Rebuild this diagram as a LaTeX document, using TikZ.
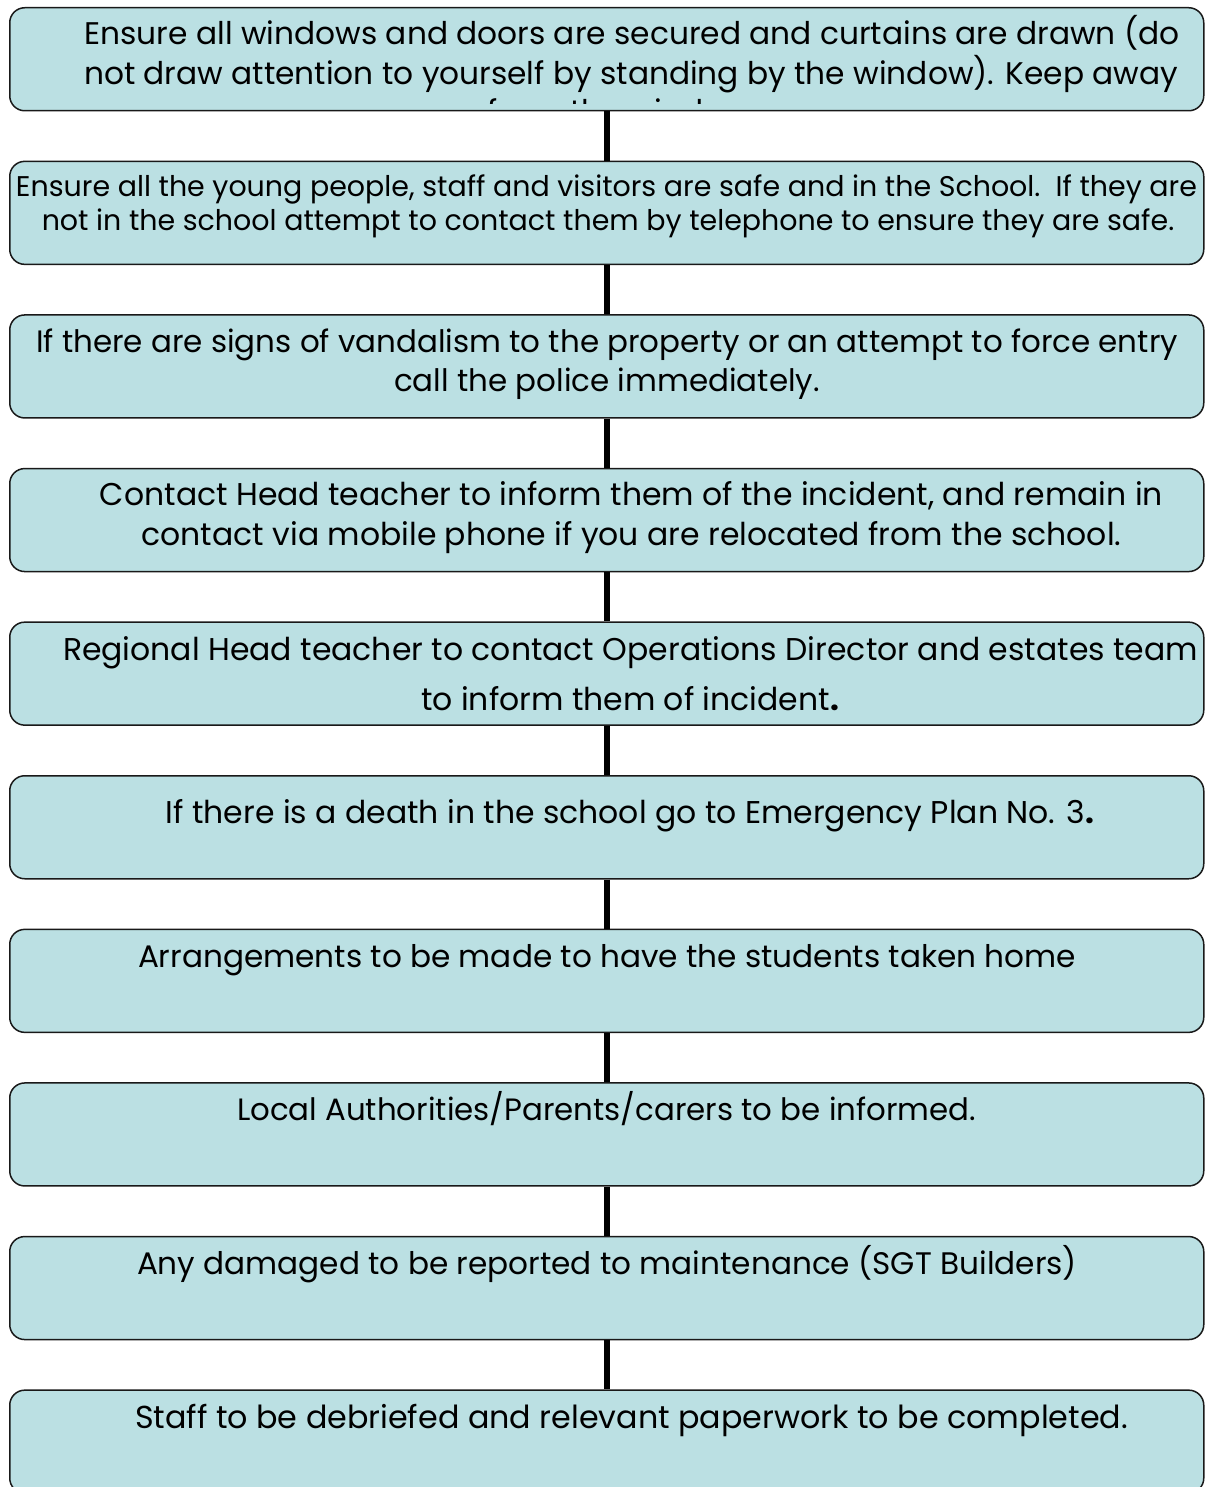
\documentclass[tikz,border=0pt]{standalone}
\usepackage{fontspec}
\setmainfont{Poppins}
\definecolor{boxfill}{RGB}{187,224,227}
\definecolor{boxline}{RGB}{25,25,25}
\newlength\fitlen
\newcommand\fitfont[3]{\settowidth\fitlen{\normalfont\fontsize{20pt}{24pt}\selectfont #3}\pgfmathsetmacro\fittmp{#2/\fitlen*20}\global\let#1\fittmp}
\tikzset{
  stepbox/.style={draw=boxline, line width=1.5pt, fill=boxfill, rounded corners=15pt,
    minimum width=1194pt, minimum height=103pt, inner sep=0pt, anchor=north west},
  link/.style={line width=5.5pt, draw=black},
  txt/.style={anchor=base, inner sep=0pt, text=black}
}
\begin{document}
\fitfont{\sA}{1094}{not draw attention to yourself by standing by the window). Keep away}%
\fitfont{\sB}{1181}{Ensure all the young people, staff and visitors are safe and in the School.\ \ If they are}%
\fitfont{\sC}{1142}{If there are signs of vandalism to the property or an attempt to force entry}%
\fitfont{\sD}{1063}{Contact Head teacher to inform them of the incident, and remain in}%
\fitfont{\sE}{1135}{Regional Head teacher to contact Operations Director and estates team}%
\fitfont{\sF}{926}{If there is a death in the school go to Emergency Plan No. 3.}%
\fitfont{\sG}{938}{Arrangements to be made to have the students taken home}%
\fitfont{\sH}{739}{Local Authorities/Parents/carers to be informed.}%
\fitfont{\sI}{940}{Any damaged to be reported to maintenance (SGT Builders)}%
\fitfont{\sJ}{993}{Staff to be debriefed and relevant paperwork to be completed.}%
\begin{tikzpicture}[x=1pt,y=-1pt]
\useasboundingbox (0,0) rectangle (1204,1487);

% boxes
\node[stepbox] (b1) at (9,7) {};
\node[stepbox] (b2) at (9,160.6) {};
\node[stepbox] (b3) at (9,314.2) {};
\node[stepbox] (b4) at (9,467.8) {};
\node[stepbox] (b5) at (9,621.4) {};
\node[stepbox] (b6) at (9,775) {};
\node[stepbox] (b7) at (9,928.6) {};
\node[stepbox] (b8) at (9,1082.2) {};
\node[stepbox] (b9) at (9,1235.8) {};
\node[stepbox] (b10) at (9,1389.4) {};

% connectors
\draw[link] (b1.south) -- (b2.north);
\draw[link] (b2.south) -- (b3.north);
\draw[link] (b3.south) -- (b4.north);
\draw[link] (b4.south) -- (b5.north);
\draw[link] (b5.south) -- (b6.north);
\draw[link] (b6.south) -- (b7.north);
\draw[link] (b7.south) -- (b8.north);
\draw[link] (b8.south) -- (b9.north);
\draw[link] (b9.south) -- (b10.north);

% texts
\begin{scope}
\clip (9,7) rectangle (1203,104);
\node[txt, font=\fontsize{\sA}{\sA}\selectfont] (t1a) at (632,45) {Ensure all windows and doors are secured and curtains are drawn (do};
\node[txt, font=\fontsize{\sA}{\sA}\selectfont] (t1b) at (631,85) {not draw attention to yourself by standing by the window). Keep away};
\node[txt, font=\fontsize{\sA}{\sA}\selectfont] (t1c) at (630,123) {from the windows.};
\end{scope}
\node[txt, font=\fontsize{\sB}{\sB}\selectfont] (t2a) at (606.5,197) {Ensure all the young people, staff and visitors are safe and in the School.\ \ If they are};
\node[txt, font=\fontsize{\sB}{\sB}\selectfont] (t2b) at (608,231) {not in the school attempt to contact them by telephone to ensure they are safe.};
\node[txt, font=\fontsize{\sC}{\sC}\selectfont] (t3a) at (607,352) {If there are signs of vandalism to the property or an attempt to force entry};
\node[txt, font=\fontsize{\sC}{\sC}\selectfont] (t3b) at (607,391) {call the police immediately.};
\node[txt, font=\fontsize{\sD}{\sD}\selectfont] (t4a) at (631.5,505) {Contact Head teacher to inform them of the incident, and remain in};
\node[txt, font=\fontsize{\sD}{\sD}\selectfont] (t4b) at (631.5,545) {contact via mobile phone if you are relocated from the school.};
\node[txt, font=\fontsize{\sE}{\sE}\selectfont] (t5a) at (630.5,660) {Regional Head teacher to contact Operations Director and estates team};
\node[txt, font=\fontsize{\sE}{\sE}\selectfont] (t5b) at (630,710) {to inform them of incident{\bfseries .}};
\node[txt, font=\fontsize{\sF}{\sF}\selectfont] (t6) at (630,823) {If there is a death in the school go to Emergency Plan No. 3{\bfseries .}};
\node[txt, font=\fontsize{\sG}{\sG}\selectfont] (t7) at (607,967) {Arrangements to be made to have the students taken home};
\node[txt, font=\fontsize{\sH}{\sH}\selectfont] (t8) at (606.5,1120) {Local Authorities/Parents/carers to be informed.};
\node[txt, font=\fontsize{\sI}{\sI}\selectfont] (t9) at (607,1274) {Any damaged to be reported to maintenance (SGT Builders)};
\node[txt, font=\fontsize{\sJ}{\sJ}\selectfont] (t10) at (631.5,1428) {Staff to be debriefed and relevant paperwork to be completed.};
\end{tikzpicture}
\end{document}
